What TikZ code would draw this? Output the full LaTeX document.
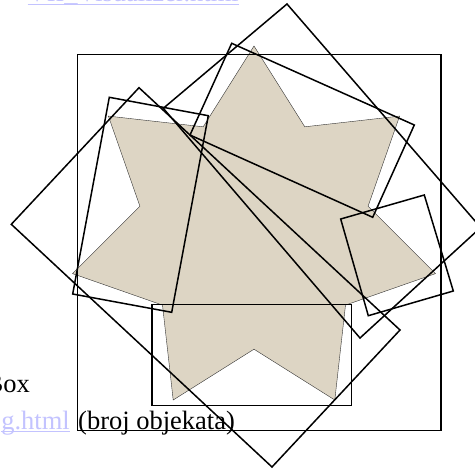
\documentclass[tikz,border=0pt]{standalone}
\usepackage{fontspec}
\setmainfont{Liberation Serif}
\usetikzlibrary{calc}
\definecolor{starfill}{RGB}{221,213,196}
\definecolor{linkcol}{RGB}{195,195,255}
\tikzset{
  box/.style={draw=black, line width=1.5pt, line join=miter},
  starshape/.style={fill=starfill, draw=black!80, line width=0.4pt},
  txt/.style={inner sep=0pt, font=\fontsize{26.5}{31}\selectfont},
  linktxt/.style={txt, text=linkcol},
  uline/.style={draw=linkcol, line width=1.1pt}
}
\begin{document}
\begin{tikzpicture}[x=1pt,y=-1pt]
\useasboundingbox (0,0) rectangle (475,469);
\clip (0,0) rectangle (475,469);
% star
\filldraw[starshape] (254,46.0) -- (304.8,126.8) -- (399.6,116.1) -- (368.1,206.2)
  -- (435.5,273.6) -- (345.5,305.1) -- (334.8,400.0) -- (254,349.2)
  -- (173.2,400.0) -- (162.5,305.1) -- (72.5,273.6) -- (139.9,206.2)
  -- (108.4,116.1) -- (203.2,126.8) -- cycle;
% rectangles
\draw[box] (77.7,54.3) rectangle (441,430.7);
\draw[box] (152,304.3) rectangle (351.7,405.7);
\draw[box] (139,87.7) -- (400,330) -- (272,467) -- (11.3,224.3) -- cycle;
\draw[box] (287,4) -- (480.7,227.5) -- (360,338) -- (163.3,108.3) -- cycle;
\draw[box] (231.7,43.3) -- (414.3,125) -- (372.7,217.3) -- (190,135) -- cycle;
\draw[box] (109.3,97.3) -- (208.3,115.7) -- (171.7,312.3) -- (72.7,294) -- cycle;
\draw[box] (340.7,219) -- (424.3,195) -- (453.3,291) -- (368.3,315.7) -- cycle;
% texts
\node[linktxt, anchor=base east] (toplink) at (239,1.5) {VII\_Visualizer.html};
\draw[uline] ($(toplink.base west)+(0,2.6)$) -- ($(toplink.base east)+(0,2.6)$);
\node[txt, anchor=base east] (box) at (30,392) {Box};
\node[linktxt, anchor=base east] (blink) at (70,429) {g.html};
\draw[uline] ($(blink.base west)+(0,2.6)$) -- ($(blink.base east)+(0,2.6)$);
\node[txt, anchor=base west] (count) at (78,429) {(broj objekata)};
\end{tikzpicture}
\end{document}
